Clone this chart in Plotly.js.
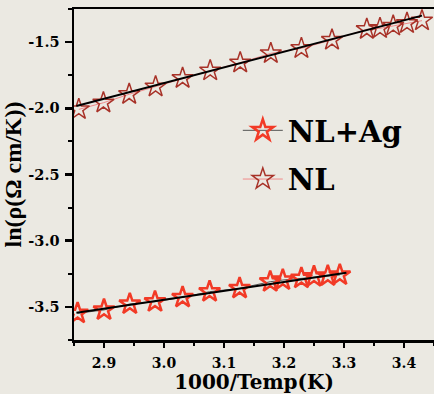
<!DOCTYPE html>
<html><head><meta charset="utf-8">
<script src="https://cdn.plot.ly/plotly-3.0.1.min.js"></script>
<style>html,body{margin:0;padding:0;background:#ebe9e2;}#chart{width:434px;height:394px;}</style>
</head><body><div id="chart"></div>
<script>
// NL (upper series)
const xNL = [2.858, 2.899, 2.942, 2.986, 3.031, 3.077, 3.127, 3.178, 3.229, 3.280, 3.338, 3.360, 3.382, 3.405, 3.430];
const yNL = [-2.008, -1.958, -1.894, -1.837, -1.773, -1.716, -1.656, -1.585, -1.547, -1.484, -1.403, -1.396, -1.378, -1.358, -1.338];
// NL+Ag (lower series)
const xAg = [2.856, 2.900, 2.943, 2.985, 3.031, 3.076, 3.126, 3.177, 3.198, 3.229, 3.250, 3.273, 3.293];
const yAg = [-3.548, -3.523, -3.478, -3.461, -3.428, -3.385, -3.360, -3.310, -3.297, -3.284, -3.272, -3.267, -3.259];
// linear fits (end points)
const fitNLx = [2.854, 3.430];
const fitNLy = [-1.983, -1.300];
const fitAgx = [2.854, 3.304];
const fitAgy = [-3.544, -3.242];

const wide = '"DejaVu Serif", serif';
const serif = '"Liberation Serif", "Times New Roman", serif';
const traces = [
  {x: xAg, y: yAg, mode: 'lines+markers', name: 'NL+Ag', legendgroup: 'a',
   line: {color: '#555', width: 1},
   marker: {symbol: 'star-open', size: 16, color: '#f23a26', line: {width: 2.5, color: '#f23a26'}}},
  {x: fitAgx, y: fitAgy, mode: 'lines', showlegend: false, line: {color: '#000', width: 2}},
  {x: xNL, y: yNL, mode: 'lines+markers', name: 'NL', legendgroup: 'b',
   line: {color: '#f08a8a', width: 1},
   marker: {symbol: 'star-open', size: 16, color: '#a83228', line: {width: 1.5, color: '#a83228'}}},
  {x: fitNLx, y: fitNLy, mode: 'lines', showlegend: false, line: {color: '#000', width: 2}}
];

const layout = {
  width: 434, height: 394,
  margin: {l: 74, r: 0, t: 9, b: 54},
  paper_bgcolor: '#ebe9e2', plot_bgcolor: '#ebe9e2',
  font: {family: wide, color: '#000'},
  showlegend: true,
  legend: {x: 0.455, y: 0.71, xanchor: 'left', yanchor: 'top', bgcolor: 'rgba(0,0,0,0)',
           font: {family: wide, size: 29, weight: 'bold', color: '#000'},
           traceorder: 'grouped', tracegroupgap: 8, itemwidth: 40},
  xaxis: {range: [2.85, 3.45], tickvals: [2.9, 3.0, 3.1, 3.2, 3.3, 3.4], ticktext: ['2.9','3.0','3.1','3.2','3.3','3.4'],
          showgrid: false, zeroline: false, showline: true, linecolor: '#000', linewidth: 2.5, mirror: true,
          ticks: 'outside', ticklen: 5, tickwidth: 2.5, tickcolor: '#000', ticklabelstandoff: 4,
          minor: {dtick: 0.05, tick0: 2.85, ticks: 'outside', ticklen: 3, tickwidth: 2, tickcolor: '#000'},
          tickfont: {family: wide, size: 14, weight: 'bold'},
          title: {text: '1000/Temp(K)', font: {family: wide, size: 20, weight: 'bold'}, standoff: 2}},
  yaxis: {range: [-3.75, -1.25], tickvals: [-3.5, -3.0, -2.5, -2.0, -1.5], ticktext: ['-3.5','-3.0','-2.5','-2.0','-1.5'],
          showgrid: false, zeroline: false, showline: true, linecolor: '#000', linewidth: 2.5,
          ticks: 'outside', ticklen: 7, tickwidth: 2.5, tickcolor: '#000', ticklabelstandoff: 2,
          minor: {dtick: 0.25, tick0: -3.75, ticks: 'outside', ticklen: 4, tickwidth: 2, tickcolor: '#000'},
          tickfont: {family: wide, size: 14.5, weight: 'bold'},
          title: {text: 'ln(ρ(Ω cm/K))', font: {family: serif, size: 24, weight: 'bold'}, standoff: 3}}
};
Plotly.newPlot('chart', traces, layout, {displayModeBar: false, staticPlot: true});
</script></body></html>
